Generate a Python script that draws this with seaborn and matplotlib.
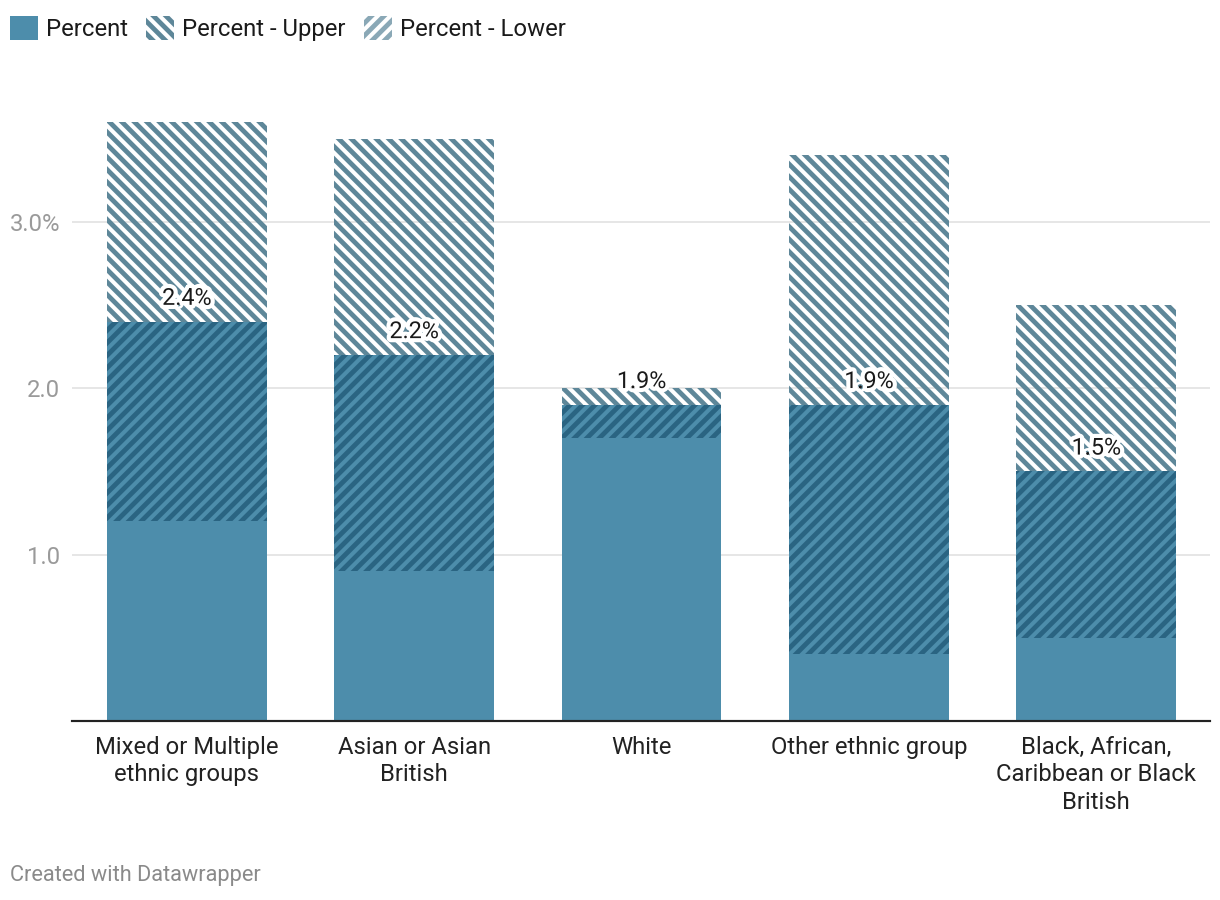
import matplotlib
matplotlib.use("Agg")
import matplotlib.pyplot as plt
import matplotlib.patheffects as pe
from matplotlib.patches import Patch
import seaborn as sns

# ---- data ----
categories = ["Mixed or Multiple\nethnic groups", "Asian or Asian\nBritish", "White",
              "Other ethnic group", "Black, African,\nCaribbean or Black\nBritish"]
percent = [2.4, 2.2, 1.9, 1.9, 1.5]
upper = [3.6, 3.5, 2.0, 3.4, 2.5]
lower = [1.2, 0.9, 1.7, 0.4, 0.5]
value_labels = ["2.4%", "2.2%", "1.9%", "1.9%", "1.5%"]
ytick_values = [1.0, 2.0, 3.0]
ytick_labels = ["1.0", "2.0", "3.0%"]
legend_labels = ["Percent", "Percent - Upper", "Percent - Lower"]

# ---- style ----
DPI = 150
K = 120 / DPI  # point scaling relative to tuned values

sns.set_theme(style="white")
plt.rcParams["font.family"] = ["Roboto", "DejaVu Sans"]
plt.rcParams["hatch.linewidth"] = 2.3

BLUE = "#4d8dab"
DARK = "#2a6482"
LIGHT = "#5e8799"
LIGHT2 = "#8aa8b6"

W, H = 1220, 900
FS = 14.3 * K
fig = plt.figure(figsize=(W / DPI, H / DPI), dpi=DPI)
ax = fig.add_axes([72 / W, 1 - 721 / H, (1210 - 72) / W, (721 - 122) / H])

bw = 0.703
sns.barplot(x=categories, y=upper, fill=False, color=LIGHT, hatch="\\\\\\\\",
            linewidth=0, width=bw, saturation=1, errorbar=None, ax=ax)
sns.barplot(x=categories, y=percent, color=BLUE, edgecolor=DARK, hatch="////",
            linewidth=0, width=bw, saturation=1, errorbar=None, ax=ax)
sns.barplot(x=categories, y=lower, color=BLUE, linewidth=0, width=bw,
            saturation=1, errorbar=None, ax=ax)

ax.set_xlim(-0.505, 4.5)
ax.set_ylim(0, 3.6)
ax.set_xlabel("")
ax.set_ylabel("")

ax.set_yticks(ytick_values, ytick_labels)
ax.tick_params(axis="y", length=0, pad=7 * K, labelsize=FS, labelcolor="#9a9a9a")
ax.tick_params(axis="x", length=0, pad=9 * K, labelsize=FS, labelcolor="#222222")
for lbl in ax.get_xticklabels():
    lbl.set_linespacing(1.24)

ax.yaxis.grid(True, color="#e2e2e2", linewidth=1.0 * K)
ax.xaxis.grid(False)
ax.set_axisbelow(True)
for s in ["top", "right", "left"]:
    ax.spines[s].set_visible(False)
ax.spines["bottom"].set_color("#222222")
ax.spines["bottom"].set_linewidth(1.3 * K)

for i, (p, lab) in enumerate(zip(percent, value_labels)):
    ax.annotate(lab, (i, p), xytext=(0, 14 * K), textcoords="offset points",
                ha="center", va="center", fontsize=14 * K, color="#1a1a1a",
                path_effects=[pe.withStroke(linewidth=5 * K, foreground="white")])

handles = [
    Patch(facecolor=BLUE, linewidth=0),
    Patch(facecolor="white", edgecolor=LIGHT, hatch="\\\\\\\\", linewidth=0),
    Patch(facecolor="white", edgecolor=LIGHT2, hatch="////", linewidth=0),
]
fig.legend(handles, legend_labels, loc="upper left", bbox_to_anchor=(10 / W, 1 - 16 / H),
           ncol=3, frameon=False, fontsize=FS, borderpad=0, borderaxespad=0,
           handlelength=1.18, handleheight=1.18, handletextpad=0.34, columnspacing=0.75,
           labelcolor="#1a1a1a")

fig.text(10 / W, 1 - 875 / H, "Created with Datawrapper", ha="left", va="center",
         fontsize=13.1 * K, color="#8a8a8a")

fig.savefig("out.png", dpi=DPI)
